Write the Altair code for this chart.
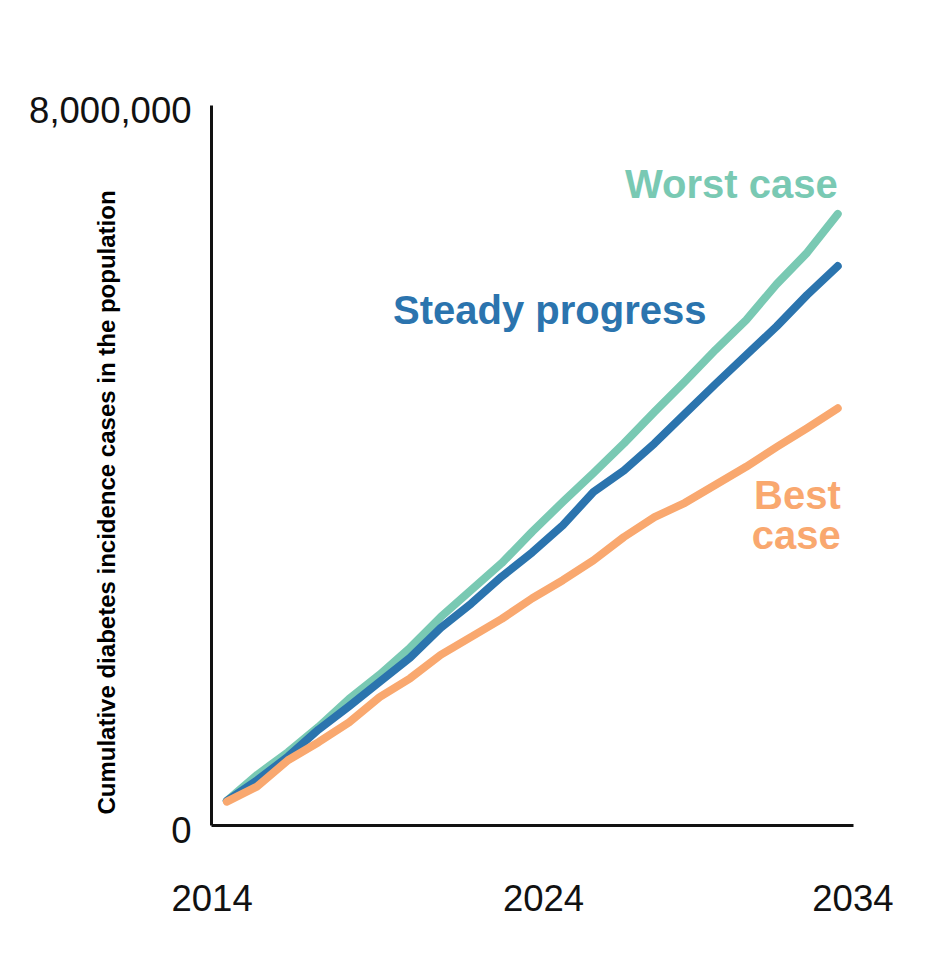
import altair as alt
import pandas as pd

years = list(range(2014, 2035))
worst_case = [0.27, 0.56, 0.81, 1.09, 1.40, 1.67, 1.97, 2.31, 2.61, 2.91, 3.26,
              3.59, 3.91, 4.24, 4.59, 4.93, 5.28, 5.61, 6.01, 6.36, 6.79]
steady_progress = [0.27, 0.50, 0.76, 1.06, 1.32, 1.59, 1.86, 2.19, 2.46, 2.76, 3.03,
                   3.33, 3.70, 3.94, 4.24, 4.57, 4.90, 5.22, 5.54, 5.89, 6.21]
best_case = [0.26, 0.43, 0.72, 0.92, 1.14, 1.42, 1.63, 1.89, 2.09, 2.29, 2.52,
             2.72, 2.94, 3.20, 3.42, 3.58, 3.78, 3.98, 4.20, 4.41, 4.63]
series_names = ["Worst case", "Steady progress", "Best case"]
series_colors = ["#79c9b3", "#2b74ae", "#f9a86f"]
x_tick_labels = ["2014", "2024", "2034"]
y_ticks = [0, 8000000]

rows = []
for name, vals in zip(series_names, [worst_case, steady_progress, best_case]):
    for y, v in zip(years, vals):
        rows.append({"year": y, "value": v * 1e6, "series": name})
df = pd.DataFrame(rows)

color_scale = alt.Scale(domain=series_names, range=series_colors)

x_scale = alt.Scale(domain=[2013.48, 2034.5], nice=False, zero=False)
y_scale = alt.Scale(domain=[0, 8000000], nice=False)

lines = alt.Chart(df).mark_line(strokeWidth=8, strokeCap="round", strokeJoin="round").encode(
    x=alt.X("year:Q", scale=x_scale,
            axis=alt.Axis(values=[2013.5, 2024.35, 2034.48],
                          labelExpr="datum.value < 2020 ? '%s' : datum.value < 2030 ? '%s' : '%s'" % tuple(x_tick_labels),
                          title=None, grid=False, ticks=False, domainColor="#111111",
                          domainWidth=3, labelFontSize=36.5, labelFont="Liberation Sans",
                          labelColor="#111111", labelPadding=56, labelFlush=False,
                          labelOverlap=False, labelBound=False,
                          labelAlign="center")),
    y=alt.Y("value:Q", scale=y_scale,
            axis=alt.Axis(values=y_ticks, labelExpr="format(datum.value, ',')",
                          grid=False, ticks=False,
                          domainColor="#111111", domainWidth=3, labelFontSize=36.5,
                          labelFont="Liberation Sans", labelColor="#111111",
                          labelPadding=20, labelOffset=6, labelFlush=False,
                          labelOverlap=False,
                          title="Cumulative diabetes incidence cases in the population",
                          titleFont="Liberation Sans", titleFontSize=24, titleFontWeight="bold",
                          titleColor="#000000", titleAngle=-90, titleX=-104, titleY=397,
                          titleAlign="center", titleBaseline="middle")),
    color=alt.Color("series:N", scale=color_scale, legend=None),
    detail="series:N",
)

ann = pd.DataFrame([
    {"year": 2034.0, "value": 7.10e6, "text": ["Worst case"], "series": "Worst case", "align": "right"},
    {"year": 2024.57, "value": 5.70e6, "text": ["Steady progress"], "series": "Steady progress", "align": "center"},
    {"year": 2034.1, "value": 3.64e6, "text": ["Best", "case"], "series": "Best case", "align": "right"},
])


def label_layer(align):
    return alt.Chart(ann[ann["align"] == align]).mark_text(
        font="Liberation Sans", fontSize=40, fontWeight="bold", align=align,
        baseline="middle", lineHeight=40
    ).encode(
        x=alt.X("year:Q", scale=x_scale),
        y=alt.Y("value:Q", scale=y_scale),
        text="text",
        color=alt.Color("series:N", scale=color_scale, legend=None),
    )


chart = alt.layer(lines, label_layer("right"), label_layer("center")).properties(
    width=642, height=720,
    autosize=alt.AutoSizeParams(type="none"),
    padding={"left": 203, "top": 97, "right": 90, "bottom": 140},
    background="white",
).configure_view(stroke=None)

chart.save("out.html", embed_options={"renderer": "svg", "actions": False})
